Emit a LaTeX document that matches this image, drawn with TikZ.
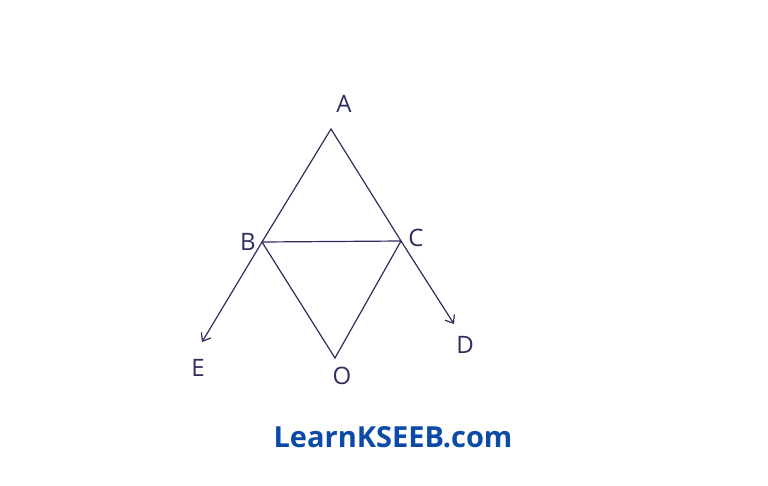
\documentclass[tikz,border=0pt]{standalone}
\usepackage{fontspec}
\newfontfamily\sitefont{Open Sans}
\usepackage{tikz}
\usetikzlibrary{arrows.meta}
\definecolor{pen}{RGB}{45,45,95}
\definecolor{siteblue}{RGB}{12,74,168}
\tikzset{>={Straight Barb[length=7pt,width=11pt]}}
\tikzset{penline/.style={draw=pen,line width=1.2pt}}
\tikzset{ptlabel/.style={text=pen,font=\sitefont\fontsize{24}{26}\selectfont,inner sep=0pt}}

\begin{document}
\begin{tikzpicture}[x=1pt,y=-1pt]

	\useasboundingbox (0,0) rectangle (768,485);

	\coordinate (A) at (331,129);
	\coordinate (B) at (262,242);
	\coordinate (C) at (401,241);
	\coordinate (O) at (335,358);
	\coordinate (E) at (202,342);
	\coordinate (D) at (454,324);

	\draw [penline] (A) -- (B) -- (C) -- cycle;
	\draw [penline] (B) -- (O) -- (C);
	\draw [penline,->] (B) -- (E);
	\draw [penline,->] (C) -- (D);

	\node[ptlabel] (lA) at (344,104) {A};
	\node[ptlabel] (lB) at (248,242) {B};
	\node[ptlabel] (lC) at (416,238) {C};
	\node[ptlabel] (lD) at (465,345) {D};
	\node[ptlabel] (lE) at (198,368) {E};
	\node[ptlabel] (lO) at (342,376) {O};

	\node[text=siteblue,font=\sitefont\bfseries\fontsize{29}{32}\selectfont] (site) at (393,437) {LearnKSEEB.com};

\end{tikzpicture}
\end{document}
